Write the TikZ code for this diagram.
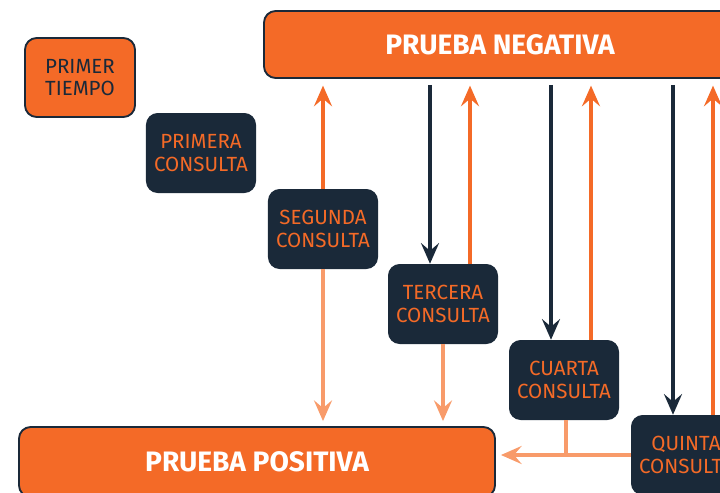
\documentclass[tikz,border=0pt]{standalone}
\usepackage{fontspec}
\setmainfont{Fira Sans}
\usepackage{xcolor}
\usetikzlibrary{arrows.meta,calc}

\definecolor{naranja}{HTML}{F46A27}
\definecolor{marino}{HTML}{1A2939}
\definecolor{salmon}{HTML}{F89B6A}

\begin{document}
\begin{tikzpicture}[
  x=0.03cm, y=-0.03cm,
  consulta/.style={rounded corners=3.5mm,fill=marino,text=naranja,align=center,
              minimum width=3.3cm,minimum height=2.4cm,
              font=\fontsize{17.5}{19.5}\selectfont},
  tiempo/.style={consulta,fill=naranja,text=marino,draw=marino,line width=1.6pt,
              minimum width=3.3cm,minimum height=2.37cm},
  prueba/.style={rounded corners=3.5mm,fill=naranja,draw=marino,line width=1.6pt,
              text=white,font=\fontsize{24}{28}\bfseries\selectfont},
  flecha/.style={line width=2.8pt,-{Stealth[length=6.2mm,width=5.4mm,inset=2.3mm]}},
  baja/.style={flecha,draw=marino,shorten <=1.8mm},
  sube/.style={flecha,draw=naranja,shorten >=2mm},
  clara/.style={flecha,draw=salmon,shorten >=1.5mm}
]
\useasboundingbox (0,0) rectangle (720,492);
\clip (0,0) rectangle (720,492);

\node[prueba,minimum width=14.16cm,minimum height=2.01cm] (neg) at (500,44.5) {PRUEBA NEGATIVA};
\node[prueba,minimum width=14.28cm,minimum height=2.1cm] (pos) at (257,462) {PRUEBA POSITIVA};

\node[tiempo] (tie) at (80,77.5) {PRIMER\\TIEMPO};
\node[consulta] (pri) at (201,153) {PRIMERA\\CONSULTA};
\node[consulta] (seg) at (323,229) {SEGUNDA\\CONSULTA};
\node[consulta] (ter) at (443,304) {TERCERA\\CONSULTA};
\node[consulta] (cua) at (564,380) {CUARTA\\CONSULTA};
\node[consulta] (qui) at (686,455) {QUINTA\\CONSULTA};

% segunda consulta
\draw[sube] (seg.north) -- (seg.north |- neg.south);
\draw[clara] (seg.south) -- (seg.south |- pos.north);

% tercera a quinta
\foreach \c in {ter,cua,qui}{
  \coordinate (\c-in) at ([xshift=-0.39cm]\c.north);
  \coordinate (\c-up) at ([xshift=0.81cm]\c.north);
  \draw[baja] (\c-in |- neg.south) -- (\c-in);
  \draw[sube] (\c-up) -- (\c-up |- neg.south);
}
\draw[clara] (ter.south) -- (ter.south |- pos.north);
\draw[salmon,line width=2.8pt] ([xshift=0.06cm]cua.south) -- ([xshift=0.06cm]cua.south |- qui.west);
\draw[clara] (qui.west) -- (pos.east |- qui.west);
\end{tikzpicture}
\end{document}
